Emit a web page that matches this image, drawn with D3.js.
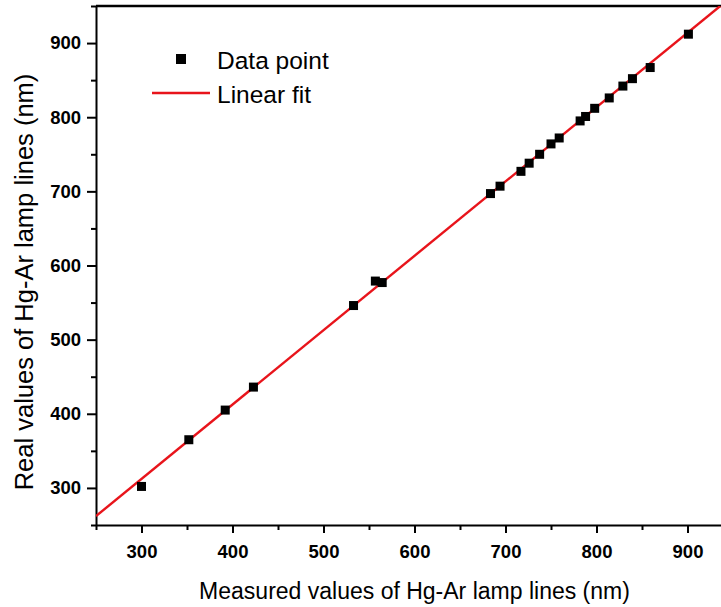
<!DOCTYPE html>
<html lang="en">
<head>
  <meta charset="utf-8">
  <script src="https://d3js.org/d3.v7.min.js" charset="utf-8"></script>
  <title>Hg-Ar lamp calibration</title>
  <style>
    body { margin: 0; background: #fff; }
    .axis path, .axis line { fill: none; stroke: #000; stroke-width: 2px; }
    .axis text { font-family: "Liberation Sans", Arial, sans-serif; font-size: 18.5px; font-weight: bold; fill: #000; }
    .title { font-family: "Liberation Sans", Arial, sans-serif; fill: #000; }
    .legend text { font-family: "Liberation Sans", Arial, sans-serif; font-size: 24.5px; fill: #000; }
  </style>
</head>
<body>
<svg width="721" height="607" id="chart"></svg>
<script>

// measured vs real wavelengths of the lamp lines (nm)
var measured = [300, 352, 392, 423, 533, 557, 564.5, 683.5, 694, 717, 726, 737.5, 750, 759, 782, 788, 798, 814, 829, 839.5, 859, 901];
var real     = [302, 365, 405, 436, 546, 579, 577, 697, 707, 727, 738, 750, 764, 772, 795, 801, 812, 826, 842, 852, 867, 912];

// linear fit, end points where it meets the frame
var fitX = [250, 936];
var fitY = [262, 950];

var majorTicks = [300, 400, 500, 600, 700, 800, 900];
var minorTicks = [250, 350, 450, 550, 650, 750, 850, 950];

var svg = d3.select("#chart");

var x = d3.scaleLinear().domain([250, 950]).range([96, 733]);
var y = d3.scaleLinear().domain([250, 950]).range([525, 6]);

svg.append("defs").append("clipPath").attr("id", "plot")
  .append("rect")
    .attr("x", x(250)).attr("y", y(950))
    .attr("width", x(950) - x(250)).attr("height", y(250) - y(950));

// frame top
svg.append("line")
    .attr("x1", x(250)).attr("x2", x(950))
    .attr("y1", y(950)).attr("y2", y(950))
    .attr("stroke", "#000").attr("stroke-width", 2.5);

// x axis
var xAxis = svg.append("g")
    .attr("class", "axis axis--x")
    .attr("transform", "translate(0," + y(250) + ")")
    .call(d3.axisBottom(x).tickValues(majorTicks).tickSize(8).tickSizeOuter(0).tickPadding(12));
xAxis.append("g")
    .call(d3.axisBottom(x).tickValues(minorTicks).tickSize(5).tickSizeOuter(0).tickFormat(""))
    .select(".domain").remove();

// y axis
var yAxis = svg.append("g")
    .attr("class", "axis axis--y")
    .attr("transform", "translate(" + x(250) + ",0)")
    .call(d3.axisLeft(y).tickValues(majorTicks).tickSize(9).tickSizeOuter(0).tickPadding(6));
yAxis.append("g")
    .call(d3.axisLeft(y).tickValues(minorTicks).tickSize(5).tickSizeOuter(0).tickFormat(""))
    .select(".domain").remove();

svg.selectAll(".axis .domain").attr("stroke-width", 2.5);

// fit line
var line = d3.line()
    .x(function(d) { return x(d[0]); })
    .y(function(d) { return y(d[1]); });

svg.append("path")
    .datum(d3.zip(fitX, fitY))
    .attr("clip-path", "url(#plot)")
    .attr("fill", "none")
    .attr("stroke", "#e8141b")
    .attr("stroke-width", 2.4)
    .attr("d", line);

// data points
var ms = 9;
svg.append("g")
    .attr("clip-path", "url(#plot)")
  .selectAll("rect")
    .data(d3.zip(measured, real))
    .enter().append("rect")
    .attr("x", function(d) { return x(d[0]) - ms / 2; })
    .attr("y", function(d) { return y(d[1]) - ms / 2; })
    .attr("width", ms)
    .attr("height", ms)
    .attr("fill", "#000");

// axis titles
svg.append("text")
    .attr("class", "title")
    .attr("x", 414.5)
    .attr("y", 599)
    .attr("text-anchor", "middle")
    .style("font-size", "23px")
    .text("Measured values of Hg-Ar lamp lines (nm)");

svg.append("text")
    .attr("class", "title")
    .attr("transform", "translate(33,282) rotate(-90)")
    .attr("text-anchor", "middle")
    .style("font-size", "25.5px")
    .text("Real values of Hg-Ar lamp lines (nm)");

// legend
var legend = svg.append("g").attr("class", "legend");
legend.append("rect")
    .attr("x", 176).attr("y", 54)
    .attr("width", 10).attr("height", 10)
    .attr("fill", "#000");
legend.append("text")
    .attr("x", 217).attr("y", 69)
    .text("Data point");
legend.append("line")
    .attr("x1", 152).attr("x2", 210)
    .attr("y1", 93).attr("y2", 93)
    .attr("stroke", "#e8141b").attr("stroke-width", 2.4);
legend.append("text")
    .attr("x", 217).attr("y", 103)
    .text("Linear fit");

</script>
</body>
</html>
